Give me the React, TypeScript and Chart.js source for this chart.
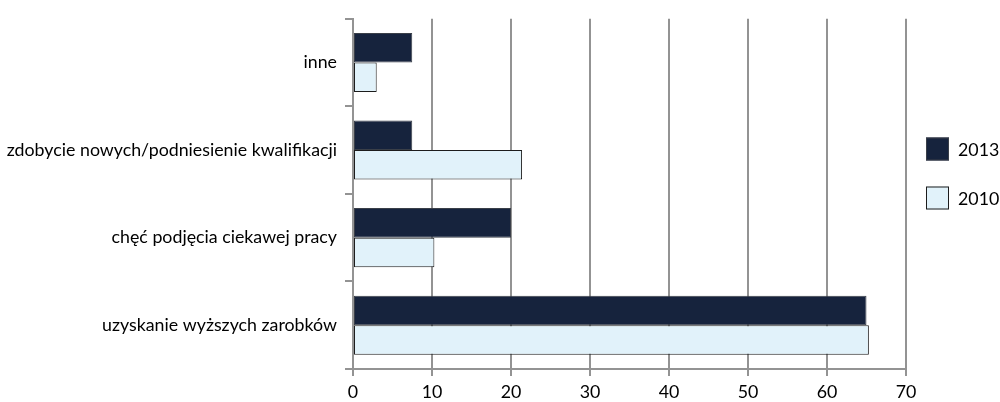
import React, { useEffect, useRef } from "react";
import { Chart, registerables } from "chart.js";

Chart.register(...registerables);

const categories = [
  "inne",
  "zdobycie nowych/podniesienie kwalifikacji",
  "chęć podjęcia ciekawej pracy",
  "uzyskanie wyższych zarobków",
];
const values2013 = [7.5, 7.5, 20.0, 65.0];
const values2010 = [3.0, 21.4, 10.3, 65.3];
const seriesLabels = ["2013", "2010"];
const xTicks = [0, 10, 20, 30, 40, 50, 60, 70];

const FONT = "Lato";
const FONT_SIZE = 17.8;
const GRID = "#939393";

// Legend drawn on the right side of the canvas, one entry per dataset
const sideLegend = {
  id: "sideLegend",
  afterDraw(chart: any) {
    const ctx = chart.ctx;
    const x = 926;
    const centers = [149, 198];
    const box = 23;
    ctx.save();
    ctx.font = `${FONT_SIZE}px ${FONT}`;
    ctx.textBaseline = "middle";
    ctx.textAlign = "left";
    chart.data.datasets.forEach((ds: any, i: number) => {
      const cy = centers[i];
      ctx.fillStyle = ds.backgroundColor;
      ctx.fillRect(x, cy - box / 2, box, box);
      ctx.strokeStyle = ds.borderColor;
      ctx.lineWidth = 1;
      ctx.strokeRect(x + 0.5, cy - box / 2 + 0.5, box - 1, box - 1);
      ctx.fillStyle = "#000";
      ctx.fillText(ds.label, x + 32, cy + 1);
    });
    ctx.restore();
  },
};

export default function App() {
  const ref = useRef<HTMLCanvasElement>(null);

  useEffect(() => {
    if (!ref.current) return;
    const chart = new Chart(ref.current, {
      type: "bar",
      data: {
        labels: categories,
        datasets: [
          {
            label: seriesLabels[0],
            data: values2013,
            backgroundColor: "#16233d",
            borderColor: "#3a3f48",
            borderWidth: 1,
            borderSkipped: false,
          },
          {
            label: seriesLabels[1],
            data: values2010,
            backgroundColor: "#e1f2fa",
            borderColor: "#1c1c1c",
            borderWidth: 1,
            borderSkipped: false,
          },
        ],
      },
      options: {
        indexAxis: "y",
        animation: false,
        responsive: false,
        maintainAspectRatio: false,
        categoryPercentage: 0.675,
        barPercentage: 1,
        layout: { padding: { top: 14, right: 94, left: 0, bottom: 0 } },
        plugins: {
          legend: { display: false },
          tooltip: { enabled: false },
        },
        scales: {
          x: {
            type: "linear",
            min: 0,
            max: 70,
            afterBuildTicks: (scale: any) => {
              scale.ticks = xTicks.map((v) => ({ value: v }));
            },
            afterFit: (scale: any) => {
              scale.height = 33;
            },
            grid: {
              color: GRID,
              lineWidth: 2,
              tickLength: 7,
              drawTicks: true,
            },
            border: { display: true, color: GRID, width: 2 },
            ticks: {
              font: { family: FONT, size: FONT_SIZE },
              color: "#000",
              padding: 6,
            },
          },
          y: {
            type: "category",
            offset: true,
            afterFit: (scale: any) => {
              scale.width = 353;
            },
            grid: {
              offset: true,
              drawOnChartArea: false,
              color: GRID,
              lineWidth: 2,
              tickLength: 8,
            },
            border: { display: true, color: GRID, width: 2 },
            ticks: {
              font: { family: FONT, size: FONT_SIZE },
              color: "#000",
              padding: 8,
            },
          },
        },
      },
      plugins: [sideLegend],
    });
    return () => chart.destroy();
  }, []);

  return (
    <div style={{ position: "absolute", left: 0, top: 0, width: 1000, height: 402, background: "#fff" }}>
      <canvas ref={ref} width={1000} height={402} style={{ display: "block" }} />
    </div>
  );
}
